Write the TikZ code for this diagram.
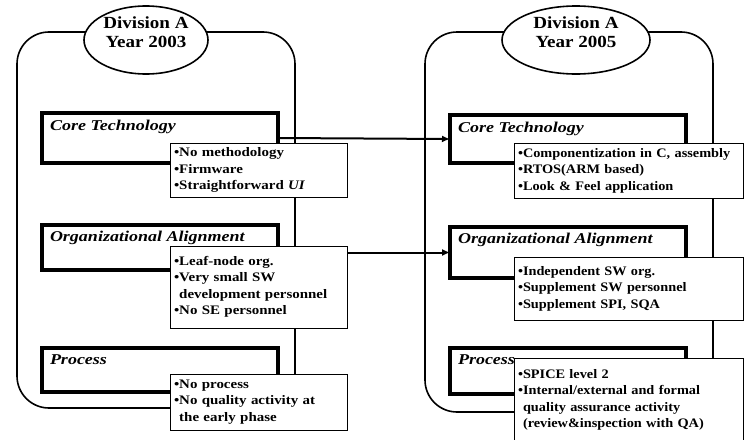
\documentclass[tikz,border=0pt]{standalone}
\usepackage{fontspec}
\setmainfont{Liberation Serif}
\usetikzlibrary{shapes.geometric, arrows.meta, positioning}

\tikzset{
    container/.style={draw, line width=1.6pt, rounded corners=32pt},
    division/.style={ellipse, draw, fill=white, line width=1.6pt, minimum height=68pt, inner sep=0pt},
    divtext/.style={inner sep=0pt, align=center, font=\bfseries\fontsize{17}{19}\selectfont\addfontfeatures{FakeStretch=1.12}},
    areabox/.style={draw, line width=3.2pt, fill=white, anchor=north west, minimum width=236pt, inner sep=0pt},
    areatitle/.style={inner sep=0pt, font=\bfseries\itshape\fontsize{15}{17}\selectfont\addfontfeatures{FakeStretch=1.2}},
    itembox/.style={draw, line width=1pt, fill=white, anchor=north west, align=left, inner xsep=4pt, inner ysep=3pt},
    leftitems/.style={itembox, text width=169pt, font=\bfseries\fontsize{13}{16.5}\selectfont\addfontfeatures{FakeStretch=1.15}},
    rightitems/.style={itembox, text width=221pt, font=\bfseries\fontsize{13}{16.5}\selectfont\addfontfeatures{FakeStretch=1.1}},
    link/.style={line width=2pt, -{Latex[length=8pt, width=7pt]}}
}

\begin{document}
\begin{tikzpicture}[x=1pt, y=-1pt, every node/.style={outer sep=0pt}]
    \useasboundingbox (0,0) rectangle (744,439);

    % Containers
    \draw[container] (17,32) rectangle (295,408);
    \draw[container] (425,32) rectangle (713,412);

    % Division labels
    \node[division, minimum width=124pt] (ldiv) at (146,40) {};
    \node[divtext] (ldivtext) at (146,32) {Division A\\Year 2003};
    \node[division, minimum width=148pt] (rdiv) at (576,40) {};
    \node[divtext] (rdivtext) at (576,32) {Division A\\Year 2005};

    % Year 2003 areas
    \node[areabox, minimum height=50pt] (lcore) at (42,113) {};
    \node[areatitle, below right=7pt and 8pt of lcore.north west] (lcoretitle) {Core Technology};
    \node[leftitems, minimum height=54pt] (lcoreitems) at (170,143)
        {\textbullet No methodology\\\textbullet Firmware\\\textbullet Straightforward \textit{UI}};

    \node[areabox, minimum height=45pt] (lorg) at (42,225) {};
    \node[areatitle, below right=6pt and 8pt of lorg.north west] (lorgtitle) {Organizational Alignment};
    \node[leftitems, minimum height=82pt] (lorgitems) at (170,246)
        {\textbullet Leaf-node org.\\\textbullet Very small SW\\\phantom{\textbullet}development personnel\\\textbullet No SE personnel};

    \node[areabox, minimum height=44pt] (lproc) at (42,348) {};
    \node[areatitle, below right=7pt and 8pt of lproc.north west] (lproctitle) {Process};
    \node[leftitems, minimum height=56pt] (lprocitems) at (170,374)
        {\textbullet No process\\\textbullet No quality activity at\\\phantom{\textbullet}the early phase};

    % Year 2005 areas
    \node[areabox, minimum height=48pt] (rcore) at (450,115) {};
    \node[areatitle, below right=7pt and 8pt of rcore.north west] (rcoretitle) {Core Technology};
    \node[rightitems, minimum height=55pt] (rcoreitems) at (514,143)
        {\textbullet Componentization in C, assembly\\\textbullet RTOS(ARM based)\\\textbullet Look \& Feel application};

    \node[areabox, minimum height=51pt] (rorg) at (450,227) {};
    \node[areatitle, below right=6pt and 8pt of rorg.north west] (rorgtitle) {Organizational Alignment};
    \node[rightitems, minimum height=63pt] (rorgitems) at (514,257)
        {\textbullet Independent SW org.\\\textbullet Supplement SW personnel\\\textbullet Supplement SPI, SQA};

    \node[areabox, minimum height=46pt] (rproc) at (450,348) {};
    \node[areatitle, below right=7pt and 8pt of rproc.north west] (rproctitle) {Process};
    \node[rightitems, minimum height=84pt] (rprocitems) at (514,358)
        {\textbullet SPICE level 2\\\textbullet Internal/external and formal\\\phantom{\textbullet}quality assurance activity\\\phantom{\textbullet}(review\&inspection with QA)};

    % Links
    \draw[link] (lcore.east) -- (rcore.west);
    \draw[link] (lorgitems.east |- rorg.west) -- (rorg.west);
\end{tikzpicture}
\end{document}
